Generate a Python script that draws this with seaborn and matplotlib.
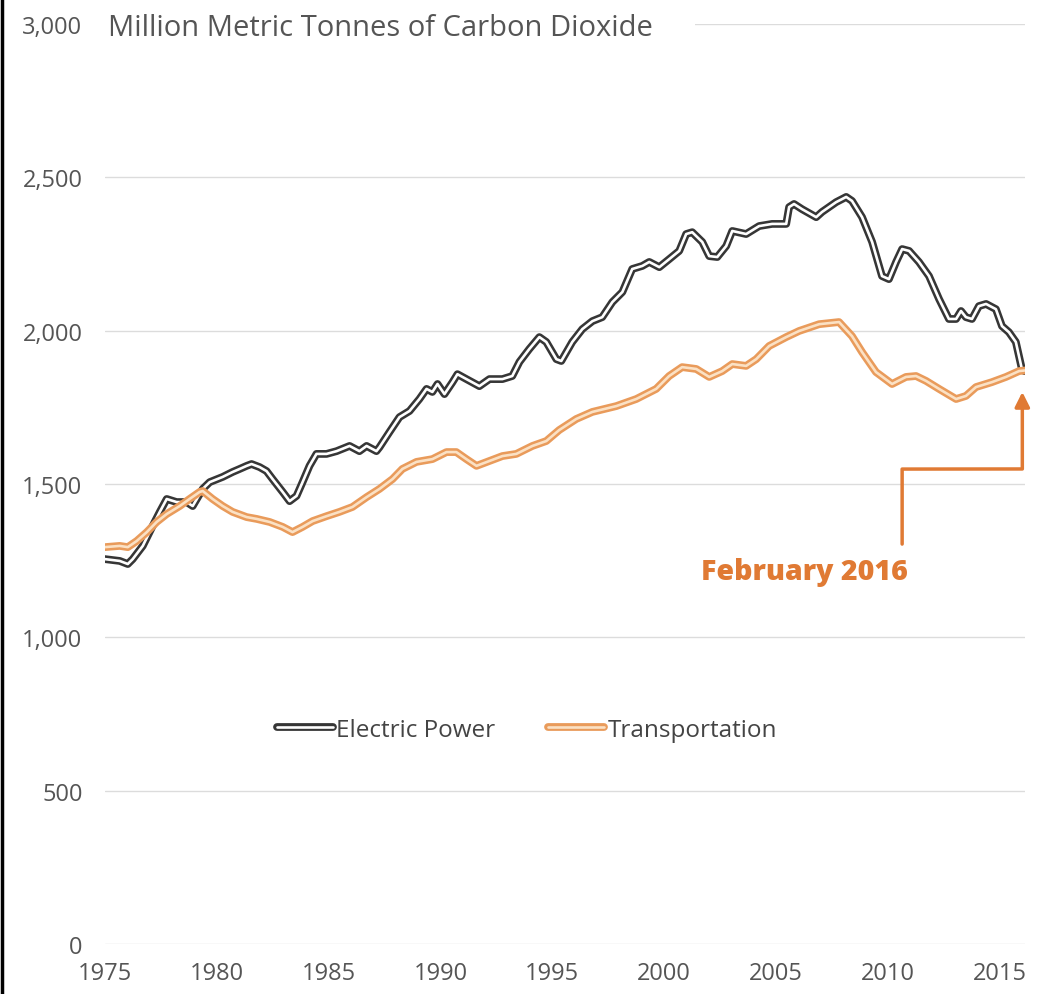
import pandas as pd
import matplotlib.pyplot as plt
import matplotlib.patheffects as pe
from matplotlib.lines import Line2D
from matplotlib.ticker import FuncFormatter
import seaborn as sns

# --- data (fractional years) ---
power_years = [1975.00, 1975.67, 1976.03, 1976.25, 1976.70, 1977.14, 1977.46, 1977.77, 1978.21, 1978.66,
               1978.93, 1979.38, 1979.69, 1980.27, 1980.71, 1981.03, 1981.34, 1981.56, 1981.92, 1982.23,
               1982.50, 1982.95, 1983.26, 1983.57, 1983.84, 1984.15, 1984.46, 1984.91, 1985.36, 1985.94,
               1986.38, 1986.70, 1987.14, 1987.28, 1987.72, 1988.17, 1988.62, 1989.06, 1989.38, 1989.64,
               1989.87, 1990.18, 1990.54, 1990.76, 1991.16, 1991.74, 1992.19, 1992.77, 1993.21, 1993.53,
               1993.97, 1994.42, 1994.73, 1995.18, 1995.40, 1995.89, 1996.34, 1996.79, 1997.23, 1997.68,
               1998.13, 1998.57, 1999.02, 1999.33, 1999.78, 2000.22, 2000.67, 2000.98, 2001.25, 2001.70,
               2002.01, 2002.37, 2002.77, 2003.04, 2003.66, 2004.24, 2004.82, 2005.45, 2005.58, 2005.80,
               2006.16, 2006.79, 2007.05, 2007.68, 2008.13, 2008.39, 2008.84, 2009.29, 2009.73, 2010.04,
               2010.36, 2010.63, 2010.94, 2011.38, 2011.83, 2012.28, 2012.72, 2013.04, 2013.26, 2013.48,
               2013.75, 2014.06, 2014.38, 2014.82, 2015.09, 2015.40, 2015.71, 2015.98, 2016.10]
power_vals = [1255, 1249, 1239, 1255, 1298, 1363, 1409, 1451, 1441, 1441,
              1428, 1484, 1506, 1523, 1539, 1549, 1559, 1565, 1555, 1542,
              1516, 1474, 1444, 1461, 1506, 1559, 1598, 1598, 1607, 1624,
              1607, 1624, 1607, 1620, 1669, 1718, 1738, 1777, 1810, 1800,
              1826, 1793, 1832, 1858, 1842, 1819, 1842, 1842, 1852, 1898,
              1940, 1979, 1963, 1907, 1901, 1963, 2005, 2031, 2044, 2093,
              2126, 2201, 2211, 2224, 2207, 2233, 2260, 2315, 2321, 2289,
              2243, 2240, 2276, 2325, 2315, 2341, 2348, 2348, 2403, 2413,
              2396, 2370, 2387, 2419, 2436, 2423, 2370, 2289, 2178, 2168,
              2224, 2266, 2260, 2224, 2178, 2103, 2038, 2038, 2064, 2044,
              2038, 2080, 2087, 2070, 2015, 1995, 1963, 1875, 1868]

transport_years = [1975.00, 1975.67, 1976.03, 1976.43, 1976.88, 1977.32, 1977.77, 1978.35, 1978.79, 1979.24,
                   1979.38, 1979.82, 1980.27, 1980.71, 1981.34, 1981.79, 1982.37, 1982.95, 1983.39, 1983.84,
                   1984.29, 1984.91, 1985.49, 1986.07, 1986.70, 1987.28, 1987.86, 1988.30, 1988.93, 1989.64,
                   1990.27, 1990.71, 1991.16, 1991.61, 1992.19, 1992.77, 1993.39, 1994.11, 1994.73, 1995.31,
                   1996.07, 1996.79, 1997.86, 1998.75, 1999.64, 2000.22, 2000.80, 2001.43, 2002.01, 2002.59,
                   2003.04, 2003.66, 2004.11, 2004.69, 2005.45, 2006.03, 2006.92, 2007.81, 2008.39, 2008.84,
                   2009.46, 2010.18, 2010.80, 2011.25, 2011.70, 2012.28, 2013.04, 2013.48, 2013.93, 2014.64,
                   2015.27, 2015.85, 2016.10]
transport_vals = [1294, 1298, 1294, 1314, 1343, 1376, 1402, 1428, 1451, 1474,
                  1477, 1451, 1428, 1409, 1392, 1386, 1376, 1360, 1343, 1360,
                  1379, 1395, 1409, 1425, 1457, 1484, 1516, 1549, 1572, 1581,
                  1604, 1604, 1581, 1559, 1575, 1591, 1598, 1624, 1640, 1676,
                  1712, 1735, 1754, 1777, 1810, 1852, 1881, 1875, 1849, 1868,
                  1891, 1885, 1907, 1950, 1979, 1999, 2021, 2028, 1982, 1930,
                  1865, 1826, 1849, 1852, 1836, 1810, 1777, 1787, 1816, 1832,
                  1849, 1868, 1870]

series = ['Electric Power', 'Transportation']
y_ticks = [0, 500, 1000, 1500, 2000, 2500, 3000]
x_ticks = [1975, 1980, 1985, 1990, 1995, 2000, 2005, 2010, 2015]

df = pd.concat([
    pd.DataFrame({'year': power_years, 'co2': power_vals, 'sector': series[0]}),
    pd.DataFrame({'year': transport_years, 'co2': transport_vals, 'sector': series[1]}),
])

# --- style ---
sns.set_style('white')
plt.rcParams['font.family'] = ['Open Sans', 'DejaVu Sans']

TXT = '#555555'
ORANGE = '#e07a34'
outer = {'Electric Power': '#363636', 'Transportation': '#e99b5b'}
inner = {'Electric Power': '#ffffff', 'Transportation': '#fbe1c4'}

fig = plt.figure(figsize=(10.37, 9.95), dpi=100)
ax = fig.add_axes([0.101, 0.0503, 0.887, 0.9246])

sns.lineplot(data=df, x='year', y='co2', hue='sector', palette=inner,
             estimator=None, sort=False, linewidth=1.9, legend=False, ax=ax)

for line, name in zip(ax.get_lines(), series):
    line.set_solid_capstyle('round')
    line.set_path_effects([pe.Stroke(linewidth=5.6, foreground=outer[name], capstyle='round'),
                           pe.Normal()])
    line.set_label(name)

ax.set_xlim(1975, 2016.1)
ax.set_ylim(0, 3000)
ax.set_xticks(x_ticks)
ax.set_yticks(y_ticks)
ax.yaxis.set_major_formatter(FuncFormatter(lambda v, p: f'{int(v):,}'))
ax.tick_params(axis='both', length=0, labelsize=17, labelcolor=TXT)
ax.tick_params(axis='y', pad=16)
ax.tick_params(axis='x', pad=12)
ax.grid(axis='y', color='#dcdcdc', linewidth=1)
ax.set_axisbelow(True)
sns.despine(ax=ax, left=True, bottom=True)
ax.set_xlabel('')
ax.set_ylabel('')

# title sitting on the top gridline, white boxes hide the gridline under it
ax.text(1975.15, 3000, 'Million Metric Tonnes of Carbon Dioxide', ha='left', va='center_baseline',
        fontsize=21, color=TXT,
        bbox=dict(boxstyle='square,pad=0.1', facecolor='white', edgecolor='none'))
ax.text(2000.4, 3000, ' ', ha='center', va='center', fontsize=21,
        bbox=dict(boxstyle='square,pad=0.6', facecolor='white', edgecolor='none'))

# legend
ax.legend(handles=ax.get_lines()[:2], labels=series, loc='center',
          bbox_to_anchor=(0.459, 0.233), ncol=2, frameon=False, fontsize=17.5,
          handlelength=2.3, handletextpad=0.12, columnspacing=2.2, labelcolor='#444444')

# February 2016 callout (arms in display pixels)
ax.annotate('', xy=(2016.0, 1800), xytext=(2010.63, 1304),
            arrowprops=dict(arrowstyle='-|>', color=ORANGE, lw=2.5, mutation_scale=22,
                            shrinkA=0, shrinkB=0,
                            connectionstyle='arc,angleA=90,angleB=-90,armA=75,armB=77,rad=0'))
ax.text(2006.25, 1216, 'February 2016', ha='center', va='center', fontsize=20.5,
        fontweight='heavy', color=ORANGE)

# frame line on the left edge
fig.add_artist(Line2D([0.0015, 0.0015], [0, 1], color='black', linewidth=2.5,
                      transform=fig.transFigure))

fig.savefig('out.png', dpi=100, facecolor='white')
